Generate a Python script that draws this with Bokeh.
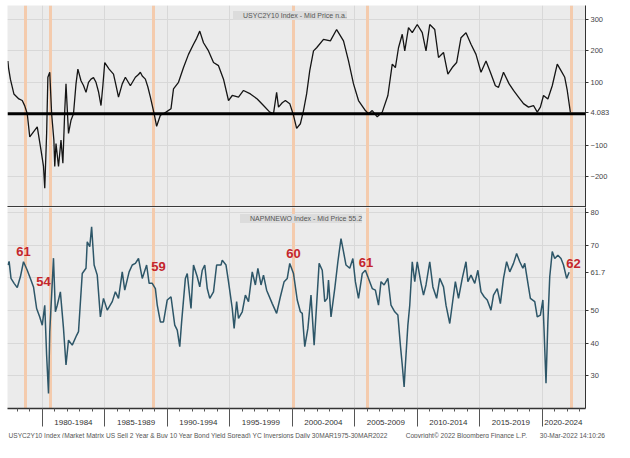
from bokeh.plotting import figure
from bokeh.layouts import column
from bokeh.models import (Range1d, FixedTicker, Legend, LegendItem,
                          ColumnDataSource, Span, Title)
from bokeh.embed import file_html
from bokeh.resources import INLINE
from bokeh.core.properties import value

# ---------------- data ----------------
spread_years = [1977.25, 1977.3, 1977.45, 1977.73, 1978.13, 1978.4, 1978.6, 1978.8, 1979.0, 1979.3,
                1979.6, 1979.9, 1980.1, 1980.2, 1980.35, 1980.45, 1980.6, 1980.75, 1980.93, 1981.0,
                1981.1, 1981.3, 1981.5, 1981.65, 1981.8, 1981.9, 1982.1, 1982.3, 1982.5, 1982.7,
                1982.85, 1983.1, 1983.3, 1983.5, 1983.7, 1983.9, 1984.1, 1984.3, 1984.5, 1984.7,
                1984.85, 1985.0, 1985.35, 1985.7, 1985.9, 1986.1, 1986.4, 1986.65, 1987.05, 1987.45,
                1987.7, 1987.85, 1988.0, 1988.25, 1988.45, 1988.65, 1988.95, 1989.15, 1989.45, 1989.7,
                1989.9, 1990.3, 1990.5, 1990.9, 1991.3, 1991.7, 1992.1, 1992.35, 1992.6, 1992.9,
                1993.3, 1993.7, 1994.1, 1994.5, 1994.9, 1995.2, 1995.7, 1996.1, 1996.65, 1997.2,
                1997.7, 1998.2, 1998.5, 1998.75, 1998.9, 1999.2, 1999.45, 1999.8, 2000.1, 2000.35,
                2000.65, 2000.9, 2001.15, 2001.4, 2001.7, 2001.95, 2002.5, 2003.05, 2003.55, 2004.1,
                2004.5, 2004.9, 2005.3, 2005.85, 2006.1, 2006.4, 2006.8, 2007.2, 2007.65, 2008.0,
                2008.25, 2008.5, 2008.8, 2009.0, 2009.3, 2009.6, 2010.0, 2010.4, 2010.7, 2011.0,
                2011.4, 2011.7, 2012.1, 2012.45, 2012.8, 2013.15, 2013.5, 2013.9, 2014.3, 2014.7,
                2015.1, 2015.5, 2015.85, 2016.25, 2016.5, 2016.9, 2017.35, 2017.7, 2018.1, 2018.5,
                2018.9, 2019.3, 2019.6, 2019.85, 2020.1, 2020.45, 2020.8, 2021.2, 2021.5, 2021.8,
                2022.0, 2022.25]
spread_values = [168, 147, 110, 63, 47, 42, 25, 0, -74, -58,
                 -42, -116, -168, -237, -63, 116, 132, 0, -84, -168,
                 -95, -168, -84, -158, 10, 95, -63, -21, 0, 95,
                 142, 105, 90, 68, 100, 110, 115, 100, 70, 26,
                 90, 163, 142, 126, 90, 53, 95, 116, 89, 116,
                 125, 132, 120, 110, 85, 53, 0, -40, -5, 0,
                 5, 16, 79, 100, 147, 189, 221, 240, 263, 226,
                 200, 163, 153, 110, 42, 58, 53, 74, 63, 47,
                 26, 5, 0, 68, 21, 35, 42, 32, -5, -47,
                 -32, 10, 63, 137, 200, 210, 237, 232, 268, 232,
                 168, 95, 42, 10, 0, 10, -10, 5, 58, 158,
                 147, 210, 253, 200, 274, 258, 284, 258, 200, 284,
                 268, 179, 195, 126, 147, 163, 242, 258, 221, 189,
                 132, 168, 132, 89, 84, 132, 95, 74, 53, 32,
                 21, 26, 5, 21, 58, 47, 89, 158, 137, 116,
                 74, 4.083]

napm_years = [1977.25, 1977.35, 1977.5, 1977.75, 1978.0, 1978.25, 1978.5, 1978.8, 1979.05, 1979.3,
              1979.55, 1979.8, 1980.0, 1980.2, 1980.35, 1980.5, 1980.6, 1980.75, 1980.9, 1981.05,
              1981.2, 1981.45, 1981.7, 1981.9, 1982.1, 1982.4, 1982.75, 1982.9, 1983.2, 1983.5,
              1983.6, 1983.8, 1983.95, 1984.15, 1984.4, 1984.65, 1984.9, 1985.2, 1985.6, 1985.85,
              1986.1, 1986.4, 1986.6, 1986.95, 1987.2, 1987.45, 1987.7, 1988.0, 1988.35, 1988.55,
              1988.8, 1989.05, 1989.2, 1989.45, 1989.7, 1990.0, 1990.3, 1990.6, 1990.8, 1991.0,
              1991.15, 1991.45, 1991.6, 1991.9, 1992.1, 1992.4, 1992.6, 1992.8, 1993.0, 1993.2,
              1993.4, 1993.7, 1993.95, 1994.3, 1994.4, 1994.7, 1994.9, 1995.2, 1995.35, 1995.55,
              1995.7, 1996.0, 1996.25, 1996.5, 1996.8, 1997.05, 1997.25, 1997.5, 1997.7, 1997.95,
              1998.4, 1998.75, 1999.05, 1999.35, 1999.6, 1999.8, 2000.1, 2000.4, 2000.65, 2000.8,
              2001.0, 2001.25, 2001.5, 2001.75, 2002.0, 2002.15, 2002.4, 2002.6, 2002.8, 2002.9,
              2003.1, 2003.4, 2003.65, 2003.9, 2004.1, 2004.3, 2004.6, 2004.85, 2005.05, 2005.3,
              2005.6, 2005.85, 2006.1, 2006.4, 2006.65, 2006.9, 2007.1, 2007.35, 2007.65, 2007.9,
              2008.2, 2008.45, 2008.65, 2008.8, 2008.95, 2009.05, 2009.25, 2009.4, 2009.6, 2009.8,
              2010.0, 2010.3, 2010.5, 2010.7, 2011.0, 2011.25, 2011.55, 2011.8, 2012.1, 2012.3,
              2012.6, 2012.85, 2013.05, 2013.3, 2013.6, 2013.9, 2014.05, 2014.3, 2014.6, 2014.85,
              2015.1, 2015.35, 2015.6, 2015.9, 2016.1, 2016.4, 2016.65, 2016.9, 2017.15, 2017.4,
              2017.7, 2017.95, 2018.2, 2018.45, 2018.6, 2018.9, 2019.05, 2019.4, 2019.6, 2019.85,
              2020.05, 2020.15, 2020.3, 2020.45, 2020.6, 2020.8, 2021.0, 2021.25, 2021.5, 2021.7,
              2021.95, 2022.15]
napm_values = [63.9, 65.0, 59.8, 58.3, 57.0, 60.3, 64.9, 62.3, 59.8, 57.2,
               50.6, 48.0, 45.5, 51.6, 36.3, 24.6, 43.5, 54.7, 66.0, 49.6,
               51.6, 55.7, 44.5, 33.3, 40.9, 39.4, 42.4, 43.5, 61.3, 62.9,
               71.0, 69.5, 75.6, 63.9, 60.8, 48.0, 53.7, 50.1, 52.7, 55.7,
               53.7, 61.8, 56.2, 61.8, 63.9, 64.4, 65.9, 59.8, 63.9, 58.3,
               58.3, 56.7, 51.6, 46.5, 46.5, 53.2, 54.2, 45.5, 44.0, 38.9,
               46.5, 59.8, 61.3, 50.6, 63.9, 60.3, 57.2, 62.3, 63.9, 56.7,
               53.7, 55.7, 63.9, 63.9, 65.4, 63.9, 58.8, 50.6, 44.5, 52.7,
               47.6, 49.6, 54.7, 52.7, 61.8, 57.8, 62.9, 57.8, 60.8, 56.2,
               52.1, 49.1, 54.2, 58.8, 59.8, 64.4, 61.3, 53.2, 49.6, 49.1,
               38.9, 44.5, 54.7, 39.4, 55.0, 64.4, 62.3, 52.7, 53.7, 59.3,
               48.0, 56.7, 64.9, 72.0, 68.0, 63.9, 62.9, 65.9, 58.8, 53.7,
               61.3, 62.3, 59.8, 56.7, 56.2, 51.6, 58.8, 57.8, 59.8, 51.6,
               49.6, 48.6, 39.4, 33.3, 26.6, 33.3, 45.5, 51.6, 64.9, 58.8,
               64.9, 58.3, 54.7, 57.8, 64.9, 57.2, 53.7, 59.8, 57.2, 51.6,
               46.0, 53.2, 58.8, 53.7, 59.8, 64.9, 58.8, 60.8, 58.3, 62.3,
               55.7, 54.2, 53.2, 50.1, 54.7, 56.7, 52.1, 59.8, 64.9, 61.8,
               64.4, 67.4, 64.9, 62.9, 64.4, 57.2, 53.7, 52.7, 48.0, 48.6,
               53.2, 43.5, 27.7, 46.5, 60.3, 68.0, 65.9, 66.9, 65.9, 63.9,
               59.8, 61.7]

inversion_years = [1978.66, 1980.66, 1988.9, 2000.1, 2006.0, 2022.3]
annot_years = [1978.5, 1980.1, 1989.3, 2000.1, 2005.9, 2022.5]
annot_values = [68.0, 58.9, 63.5, 67.4, 64.7, 64.4]
annot_texts = ["61", "54", "59", "60", "61", "62"]

period_starts = [1980, 1985, 1990, 1995, 2000, 2005, 2010, 2015, 2020]
period_labels = ["1980-1984", "1985-1989", "1990-1994", "1995-1999", "2000-2004",
                 "2005-2009", "2010-2014", "2015-2019", "2020-2024"]
minor_years = list(range(1977, 2024))
spread_label_ticks = [-200, -100, 100, 200, 300]
spread_grid_ticks = [-200, -100, 0, 100, 200, 300]
napm_label_ticks = [30, 40, 50, 70, 80]
napm_grid_ticks = [30, 40, 50, 60, 70, 80]

spread_legend = "USYC2Y10 Index - Mid Price n.a."
napm_legend = "NAPMNEWO Index - Mid Price 55.2"
footer_parts = ["USYC2Y10 Index (Market Matrix US Sell 2 Year & Buy 10 Year Bond Yield Spread) "
                "YC Inversions  Daily 30MAR1975-30MAR2022",
                "Copyright\u00a9 2022 Bloomberg Finance L.P.",
                "30-Mar-2022 14:10:26"]

# ---------------- style ----------------
FONT = "Liberation Sans"
BG = "#ebebeb"
GRID = "#d8d8d8"
BAND = "#f4cbad"
TEAL = "#2d5668"
AXIS = "#333333"
FRAME_W = 578
NBSP = "\u00a0"
LABEL_PX = 8

x_range = Range1d(1977.22, 2023.46)


def style_right_axis(p, label_ticks, grid_ticks, last_value, last_text):
    ax = p.yaxis[0]
    ax.ticker = FixedTicker(ticks=label_ticks + [last_value])
    ax.major_label_overrides = {last_value: last_text}
    ax.axis_line_color = AXIS
    ax.major_tick_line_color = AXIS
    ax.major_tick_out = 3
    ax.major_tick_in = 0
    ax.minor_tick_out = 0
    ax.minor_tick_in = 0
    ax.major_label_text_font = FONT
    ax.major_label_text_font_size = "7.5px"
    ax.major_label_text_color = "#444444"
    ax.major_label_standoff = 2
    p.ygrid.ticker = FixedTicker(ticks=grid_ticks)
    p.ygrid.grid_line_color = GRID
    p.xgrid.ticker = FixedTicker(ticks=period_starts)
    p.xgrid.grid_line_color = GRID


def legend_for(renderer, text, loc):
    return Legend(items=[LegendItem(label=text, renderers=[renderer])],
                  location=loc, label_text_font=FONT, label_text_font_size="7px",
                  label_text_color="#555555", glyph_width=6, glyph_height=6, label_height=9,
                  label_standoff=4, padding=3, margin=0, spacing=0,
                  background_fill_color="#dcdcdc", background_fill_alpha=1,
                  border_line_color=None)


# ---------------- top panel ----------------
p1 = figure(frame_width=FRAME_W, frame_height=202, x_range=x_range, y_range=Range1d(-298.7, 344.6),
            y_axis_location="right", output_backend="svg", toolbar_location=None,
            min_border_left=7, min_border_top=5, min_border_bottom=0, min_border_right=26,
            background_fill_color=BG, border_fill_color="white", outline_line_color=None)
style_right_axis(p1, spread_label_ticks, spread_grid_ticks, spread_values[-1],
                 f"{spread_values[-1]:.3f}")
xa = p1.xaxis[0]
xa.ticker = FixedTicker(ticks=[])
xa.axis_line_width = 3
xa.axis_line_color = "#3a3a3a"
xa.major_tick_out = 0
xa.minor_tick_out = 0
xa.major_label_text_font_size = "1px"

p1.vspan(x=inversion_years, line_width=3, line_color=BAND)
p1.add_layout(Span(location=0, dimension="width", line_color="black", line_width=3))
p1.line(spread_years, spread_values, line_color="#151515", line_width=1.3)

key1 = p1.quad(left=[], right=[], top=[], bottom=[], fill_color="#111111", line_color="#111111")
p1.add_layout(legend_for(key1, spread_legend, (226, 187)))

# ---------------- bottom panel ----------------
p2 = figure(frame_width=FRAME_W, frame_height=201, x_range=x_range, y_range=Range1d(20, 81.5),
            y_axis_location="right", output_backend="svg", toolbar_location=None,
            min_border_left=7, min_border_top=0, min_border_bottom=0, min_border_right=26,
            background_fill_color=BG, border_fill_color="white", outline_line_color=None)
style_right_axis(p2, napm_label_ticks, napm_grid_ticks, napm_values[-1], f"{napm_values[-1]:.1f}")

# bottom time axis: long ticks at 5-year marks, short yearly ticks, and period labels
# centred inside each interval (moved right with leading no-break spaces)
px_per_year = FRAME_W / (x_range.end - x_range.start)
space_px = 0.2778 * LABEL_PX
period_ends = period_starts[1:] + [x_range.end]
overrides = {}
for s, e, lab in zip(period_starts, period_ends, period_labels):
    shift = (e - s) / 2 * px_per_year
    overrides[s] = NBSP * int(round(2 * shift / space_px)) + lab
# the first label would run off the left edge: show it together with the second one,
# both centred on the 1985 tick
gap_px = 5 * px_per_year - 0.53 * LABEL_PX * 9
overrides[period_starts[0]] = ""
overrides[period_starts[1]] = (period_labels[0] + NBSP * int(round(gap_px / space_px))
                               + period_labels[1])

xb = p2.xaxis[0]
xb.ticker = FixedTicker(ticks=period_starts, minor_ticks=minor_years)
xb.major_label_overrides = overrides
xb.axis_line_color = AXIS
xb.axis_line_width = 1.5
xb.major_tick_line_color = "#555555"
xb.minor_tick_line_color = "#555555"
xb.major_tick_out = 18
xb.major_tick_in = 0
xb.minor_tick_out = 3
xb.minor_tick_in = 0
xb.major_label_standoff = -9
xb.major_label_text_font = FONT
xb.major_label_text_font_size = f"{LABEL_PX}px"
xb.major_label_text_color = "#333333"

p2.vspan(x=inversion_years, line_width=3, line_color=BAND)
p2.line(napm_years, napm_values, line_color=TEAL, line_width=1.5)

src = ColumnDataSource(dict(x=annot_years, y=annot_values, t=annot_texts))
p2.text(x="x", y="y", text="t", source=src, text_font=value(FONT), text_font_size="13px",
        text_font_style="bold", text_color="#c4262c", text_align="center", text_baseline="middle")

key2 = p2.quad(left=[], right=[], top=[], bottom=[], fill_color=TEAL, line_color=TEAL)
p2.add_layout(legend_for(key2, napm_legend, (233, 185)))

footer_text = footer_parts[0] + NBSP * 10 + footer_parts[1] + NBSP * 7 + footer_parts[2]
p2.add_layout(Title(text=footer_text, align="left", offset=1, standoff=0,
                    text_font=FONT, text_font_size="6.6px", text_font_style="normal",
                    text_color="#555555"), "below")

layout = column(p1, p2, spacing=0)
open("out.html", "w").write(file_html(layout, INLINE))
